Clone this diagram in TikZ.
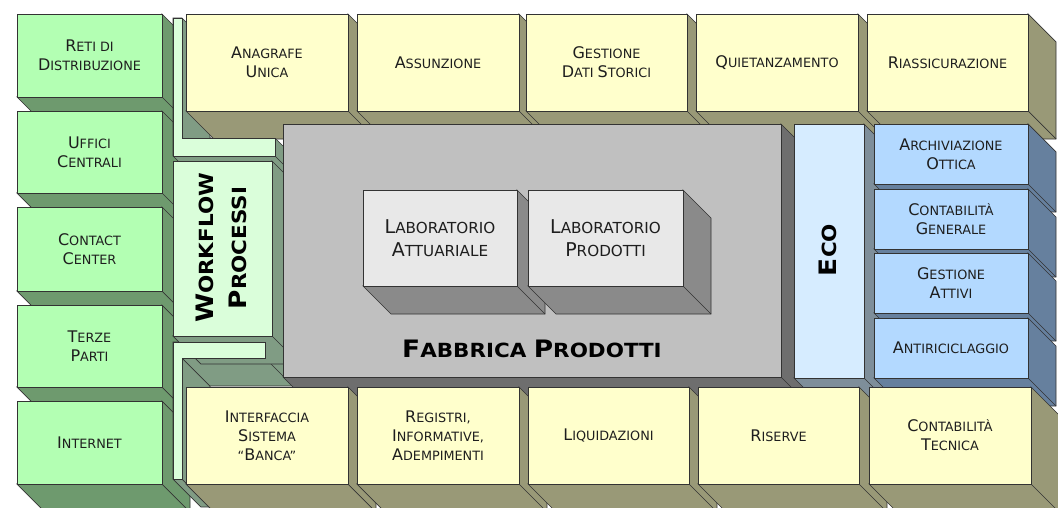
\documentclass[tikz,border=0pt]{standalone}
\usepackage{fontspec}
\setmainfont{DejaVu Sans}
\newfontfamily\bfam{DejaVu Sans}[FakeStretch=1.1]
\definecolor{gF}{HTML}{B3FFB3}\definecolor{gS}{HTML}{6E9A6E}
\definecolor{lF}{HTML}{DAFEDA}\definecolor{lS}{HTML}{809C84}
\definecolor{yF}{HTML}{FFFFCC}\definecolor{yS}{HTML}{999977}
\definecolor{fF}{HTML}{C0C0C0}\definecolor{fS}{HTML}{6E6E6E}
\definecolor{aF}{HTML}{E8E8E8}\definecolor{aS}{HTML}{8A8A8A}
\definecolor{eF}{HTML}{D6ECFF}\definecolor{eS}{HTML}{7E8E9A}
\definecolor{bF}{HTML}{B3D9FF}\definecolor{bS}{HTML}{66809E}
\definecolor{edge}{HTML}{333333}
\definecolor{txt}{HTML}{1E1E1E}
\newcommand\B[1]{{\fontsize{16}{19}\selectfont #1}}
\newcommand\BL[1]{{\fontsize{19}{23}\selectfont #1}}
\newcommand\BT[1]{{\fontsize{24}{33}\selectfont #1}}
% #1 name, #2 x1, #3 y1, #4 x2, #5 y2, #6 front, #7 side, #8 extra style, #9 text
\newcommand\cubeside[9]{%
  \filldraw[sidefc,fill=#7] (#4,#3) -- (#4+28,#3+28) -- (#4+28,#5+28) -- (#2+28,#5+28) -- (#2,#5) -- (#4,#5) -- cycle;
  \draw[sidefc] (#4,#5) -- (#4+28,#5+28);}
\newcommand\cubefront[9]{%
  \node[frontbox,fill=#6,minimum width={(#4-#2)*1pt},minimum height={(#5-#3)*1pt},#8] (#1) at ({(#2+#4)/2},{(#3+#5)/2}) {#9};}
\newcommand\greenlist{%
 \mycube{reti}{17}{14}{162}{97}{gF}{gS}{}{\B{R}ETI DI\\\B{D}ISTRIBUZIONE}%
 \mycube{uffici}{17}{111}{162}{193}{gF}{gS}{}{\B{U}FFICI\\\B{C}ENTRALI}%
 \mycube{contact}{17}{207}{162}{291}{gF}{gS}{}{\B{C}ONTACT\\\B{C}ENTER}%
 \mycube{terze}{17}{305}{162}{387}{gF}{gS}{}{\B{T}ERZE\\\B{P}ARTI}%
 \mycube{internet}{17}{401}{162}{484}{gF}{gS}{}{\B{I}NTERNET}%
}
\newcommand\restlist{%
 \mycube{wf}{173}{161}{272}{336}{lF}{lS}{}{}%
 \mycube{anag}{186}{14}{348}{111}{yF}{yS}{}{\B{A}NAGRAFE\\\B{U}NICA}%
 \mycube{assu}{357}{14}{519}{111}{yF}{yS}{}{\B{A}SSUNZIONE}%
 \mycube{gest}{526}{14}{687}{111}{yF}{yS}{}{\B{G}ESTIONE\\\B{D}ATI \B{S}TORICI}%
 \mycube{quiet}{696}{14}{858}{111}{yF}{yS}{}{\B{Q}UIETANZAMENTO}%
 \mycube{riass}{867}{14}{1028}{111}{yF}{yS}{}{\B{R}IASSICURAZIONE}%
 \mycube{fabb}{283}{124}{781}{377}{fF}{fS}{}{}%
 \mycube{eco}{794}{124}{864}{378}{eF}{eS}{}{}%
 \mycube{arch}{874}{124}{1028}{184}{bF}{bS}{}{\B{A}RCHIVIAZIONE\\\B{O}TTICA}%
 \mycube{contg}{874}{189}{1028}{249}{bF}{bS}{}{\B{C}ONTABILITÀ\\\B{G}ENERALE}%
 \mycube{gatt}{874}{253}{1028}{313}{bF}{bS}{}{\B{G}ESTIONE\\\B{A}TTIVI}%
 \mycube{anti}{874}{318}{1028}{378}{bF}{bS}{}{\B{A}NTIRICICLAGGIO}%
 \mycube{interf}{186}{387}{348}{484}{yF}{yS}{}{\B{I}NTERFACCIA\\\B{S}ISTEMA\\“\B{B}ANCA”}%
 \mycube{regis}{357}{387}{519}{484}{yF}{yS}{}{\B{R}EGISTRI,\\\B{I}NFORMATIVE,\\\B{A}DEMPIMENTI}%
 \mycube{liqu}{528}{387}{689}{484}{yF}{yS}{}{\B{L}IQUIDAZIONI}%
 \mycube{riser}{698}{387}{859}{484}{yF}{yS}{}{\B{R}ISERVE}%
 \mycube{contt}{869}{387}{1031}{484}{yF}{yS}{}{\B{C}ONTABILITÀ\\\B{T}ECNICA}%
}
\newcommand\lablist{%
 \mycube{labA}{363}{190}{517}{286}{aF}{aS}{labtext}{\BL{L}ABORATORIO\\\BL{A}TTUARIALE}%
 \mycube{labP}{528}{190}{683}{286}{aF}{aS}{labtext}{\BL{L}ABORATORIO\\\BL{P}RODOTTI}%
}
\begin{document}
\begin{tikzpicture}[x=1pt,y=-1pt,
  sidefc/.style={draw=edge,line width=0.7pt,line join=miter},
  frontbox/.style={draw=edge,line width=0.7pt,inner sep=0pt,outer sep=0pt,align=center,text=txt,
    font=\fontsize{12.8}{19}\selectfont},
  labtext/.style={font=\fontsize{15.2}{23}\selectfont},
  title/.style={inner sep=0pt,text=black,align=center,font=\bfam\bfseries\fontsize{19.5}{33}\selectfont}]
\useasboundingbox (0,0) rectangle (1058,507);
\fill[white] (0,0) rectangle (1058,507);
\clip (0,0) rectangle (1058,507);
% ---- side faces ----
\let\mycube\cubeside
\greenlist
% top bracket side
\filldraw[sidefc,fill=lS] (173,18) -- (182,18) -- (210,46) -- (210,138) -- (275,138) -- (303,166) -- (303,184) -- (201,184) -- (173,156) -- cycle;
\draw[sidefc] (275,156) -- (303,184);
% bottom bracket side
\filldraw[sidefc,fill=lS] (173,342) -- (265,342) -- (293,370) -- (293,386) -- (210,386) -- (210,507) -- (201,507) -- (173,479) -- cycle;
\draw[sidefc] (265,358) -- (293,386) (182,358) -- (210,386) (182,479) -- (210,507);
\restlist
% ---- front faces ----
\let\mycube\cubefront
\greenlist
\filldraw[sidefc,fill=lF] (173,18) -- (182,18) -- (182,138) -- (275,138) -- (275,156) -- (173,156) -- cycle;
\filldraw[sidefc,fill=lF] (173,342) -- (265,342) -- (265,358) -- (182,358) -- (182,479) -- (173,479) -- cycle;
\restlist
% ---- labs on top of the factory ----
\let\mycube\cubeside
\lablist
\let\mycube\cubefront
\lablist
% ---- titles ----
\node[title,anchor=base] (tfabb) at (532,357) {\BT{F}ABBRICA \BT{P}RODOTTI};
\node[title,rotate=90] (twf) at (221,248) {\BT{W}ORKFLOW\\\BT{P}ROCESSI};
\node[title,rotate=90] (teco) at (828,250) {\BT{E}CO};
\end{tikzpicture}
\end{document}
